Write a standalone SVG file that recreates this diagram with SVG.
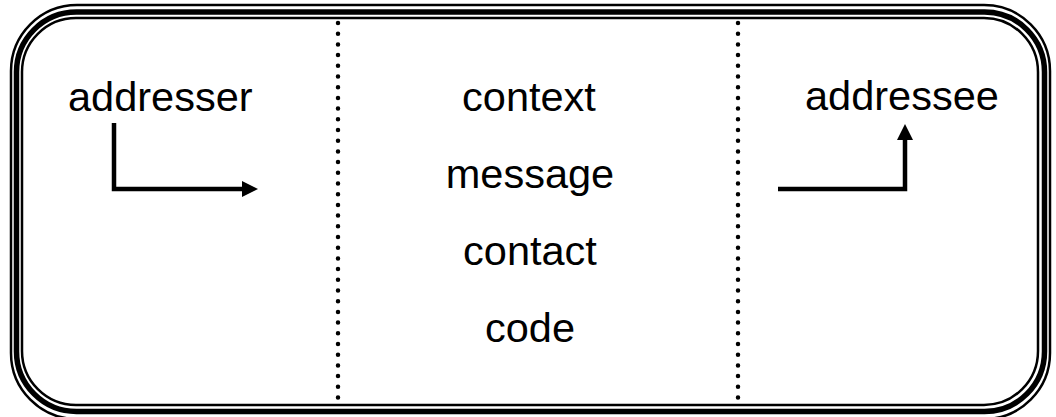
<svg xmlns="http://www.w3.org/2000/svg" width="1056" height="417" viewBox="0 0 1056 417">
<style>
.lbl{font-family:"Liberation Sans",Arial,sans-serif;font-size:41.5px;fill:#000}
.frame{fill:none;stroke:#000}
.dot{fill:none;stroke:#000;stroke-width:4.5;stroke-linecap:round;stroke-dasharray:0 10.7}
.conn{fill:none;stroke:#000;stroke-width:4.5}
</style>
<defs>
<marker id="ah" markerWidth="16" markerHeight="16" viewBox="0 0 16 16" refX="0" refY="8" orient="auto" markerUnits="userSpaceOnUse">
<path d="M0,0 L16,8 L0,16 Z" fill="#000"/>
</marker>
</defs>
<g id="frame">
<rect class="frame" x="11" y="5" width="1039" height="414" rx="66" ry="66" stroke-width="2.5"/>
<rect class="frame" x="16.5" y="12" width="1028" height="399.5" rx="60" ry="60" stroke-width="5.5"/>
<rect class="frame" x="22" y="18" width="1016" height="387" rx="54" ry="54" stroke-width="2.5"/>
</g>
<g id="dividers">
<line class="dot" x1="338" y1="23" x2="338" y2="405"/>
<line class="dot" x1="738" y1="23" x2="738" y2="405"/>
</g>
<g id="addresser"><text class="lbl" x="68" y="111">addresser</text></g>
<g id="addressee"><text class="lbl" x="805" y="110">addressee</text></g>
<g id="context"><text class="lbl" x="529" y="111" text-anchor="middle">context</text></g>
<g id="message"><text class="lbl" x="530" y="188" text-anchor="middle">message</text></g>
<g id="contact"><text class="lbl" x="530" y="265" text-anchor="middle">contact</text></g>
<g id="code"><text class="lbl" x="530" y="342" text-anchor="middle">code</text></g>
<g id="connectors">
<polyline class="conn" points="114,123 114,189 242,189" marker-end="url(#ah)"/>
<polyline class="conn" points="778,189 905,189 905,140" marker-end="url(#ah)"/>
</g>
</svg>
